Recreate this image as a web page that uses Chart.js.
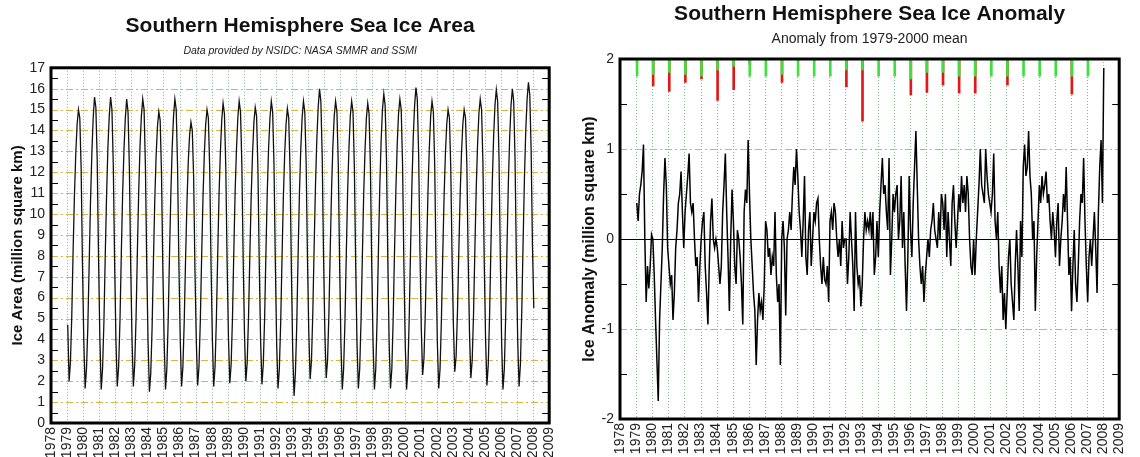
<!DOCTYPE html>
<html>
<head>
<meta charset="utf-8">
<script src="https://cdn.jsdelivr.net/npm/chart.js@4"></script>
<style>
  html,body{margin:0;padding:0;background:#fff;}
  #wrap{position:relative;width:1140px;height:457px;overflow:hidden;}
  canvas{position:absolute;top:0;}
  #areaChart{left:0;}
  #anomChart{left:570px;}
</style>
</head>
<body>
<div id="wrap">
  <canvas id="areaChart" width="570" height="457"></canvas>
  <canvas id="anomChart" width="570" height="457"></canvas>
</div>
<script>
// years of data, one row per year (monthly values Jan..Dec)
const years = [1979,1980,1981,1982,1983,1984,1985,1986,1987,1988,1989,1990,1991,1992,1993,
               1994,1995,1996,1997,1998,1999,2000,2001,2002,2003,2004,2005,2006,2007,2008];
const yearTicks = [1978,1979,1980,1981,1982,1983,1984,1985,1986,1987,1988,1989,1990,1991,1992,1993,
                   1994,1995,1996,1997,1998,1999,2000,2001,2002,2003,2004,2005,2006,2007,2008,2009];

// sea ice area, million km2
const areaMonthly = [
  [4.7,2.0,2.9,5.1,8.2,10.9,12.9,14.3,15.0,14.6,12.2,7.6],
  [3.9,1.65,2.6,4.6,7.6,10.6,12.9,14.6,15.6,15.1,12.6,7.9],
  [4.0,1.6,2.6,4.8,8.0,10.9,13.2,14.7,15.6,15.0,12.4,7.7],
  [3.9,1.75,2.7,4.9,8.1,11.0,13.1,14.6,15.5,14.9,12.3,7.6],
  [4.0,1.75,2.8,5.0,8.2,11.1,13.3,14.7,15.5,15.0,12.3,7.5],
  [3.8,1.5,2.4,4.6,7.8,10.7,12.8,14.2,14.9,14.5,12.0,7.4],
  [3.9,1.6,2.6,4.9,8.1,11.0,13.2,14.7,15.5,15.0,12.3,7.6],
  [4.0,1.75,2.7,4.9,7.9,10.5,12.5,13.8,14.4,14.0,11.8,7.3],
  [3.9,1.8,2.7,4.9,8.0,10.8,12.9,14.3,15.0,14.6,12.2,7.6],
  [4.0,1.75,2.7,5.0,8.1,11.0,13.0,14.5,15.3,14.8,12.3,7.7],
  [4.1,1.9,2.8,5.0,8.2,11.1,13.1,14.6,15.4,14.9,12.4,7.8],
  [4.2,2.0,2.9,5.1,8.1,10.9,12.9,14.4,15.1,14.7,12.2,7.6],
  [4.0,1.85,2.8,5.0,8.2,11.1,13.2,14.6,15.4,14.9,12.4,7.7],
  [3.8,1.65,2.6,4.8,7.9,10.8,12.9,14.3,15.05,14.6,12.1,7.3],
  [3.4,1.3,2.4,4.7,8.0,11.0,13.1,14.6,15.4,14.9,12.5,7.9],
  [4.3,2.1,3.0,5.3,8.5,11.4,13.6,15.1,16.0,15.4,12.8,8.0],
  [4.3,2.15,3.0,5.2,8.3,11.2,13.3,14.7,15.4,14.9,12.4,7.6],
  [3.8,1.6,2.6,4.9,8.1,11.1,13.2,14.7,15.4,14.9,12.3,7.6],
  [3.8,1.65,2.6,4.9,8.0,11.0,13.1,14.6,15.3,14.8,12.3,7.5],
  [3.8,1.6,2.6,5.0,8.3,11.3,13.5,15.0,15.75,15.2,12.6,7.8],
  [3.8,1.65,2.6,5.0,8.2,11.1,13.3,14.8,15.5,15.0,12.4,7.6],
  [3.8,1.6,2.6,5.1,8.4,11.4,13.7,15.2,16.05,15.5,12.9,8.2],
  [4.5,2.3,3.1,5.3,8.3,11.1,13.2,14.7,15.4,14.9,12.4,7.6],
  [3.8,1.65,2.6,4.9,8.0,10.8,12.9,14.3,15.0,14.6,12.2,7.8],
  [4.6,2.45,3.2,5.3,8.2,10.9,12.9,14.3,15.0,14.6,12.4,7.9],
  [4.3,2.15,3.0,5.2,8.3,11.2,13.3,14.8,15.5,15.0,12.5,7.7],
  [4.0,1.8,2.8,5.2,8.5,11.5,13.7,15.2,15.95,15.4,12.8,7.9],
  [3.8,1.6,2.6,5.1,8.4,11.5,13.7,15.2,16.0,15.4,12.6,7.7],
  [3.9,1.75,2.8,5.3,8.6,11.7,14.0,15.5,16.3,15.7,13.1,8.5],
  [5.5]
];

// anomaly from 1979-2000 mean, million km2
const anomalyMonthly = [
  [0.4,0.2,0.5,0.6,0.75,1.05,0.0,-0.7,-0.3,-0.55,-0.3,0.05],
  [0.0,-0.4,-0.9,-1.35,-1.8,-0.9,-0.5,-0.1,0.5,0.9,0.6,-0.1],
  [-0.3,-0.5,-0.4,-0.9,-0.6,-0.1,0.1,0.4,0.5,0.75,0.3,-0.1],
  [0.3,0.5,0.7,0.95,0.4,0.3,0.4,0.0,-0.3,-0.2,-0.7,-0.3],
  [0.0,0.2,0.3,-0.3,-0.6,-0.95,-0.3,0.2,0.45,0.0,-0.1,0.0],
  [-0.1,-0.3,-0.5,-0.3,0.3,0.6,0.95,0.3,-0.2,-0.8,0.0,0.55],
  [0.2,-0.3,-0.5,0.1,0.0,-0.2,-0.5,-0.95,0.3,0.55,0.4,1.1],
  [0.5,0.0,-0.3,-0.6,-0.8,-1.4,-0.9,-0.6,-0.8,-0.7,-0.9,-0.5],
  [0.2,0.1,-0.2,-0.1,-0.4,-0.2,-0.3,0.3,-0.4,-0.7,-0.5,-1.4],
  [0.0,0.2,-0.1,-0.85,0.0,0.1,0.3,0.1,0.5,0.8,0.6,1.0],
  [0.7,0.3,0.1,-0.2,0.2,0.7,-0.2,-0.4,0.1,0.3,-0.3,0.0],
  [0.3,0.2,0.4,0.45,0.0,-0.3,-0.5,-0.2,-0.45,-0.5,-0.3,-0.7],
  [0.2,0.3,0.1,0.4,0.3,0.0,-0.2,0.0,-0.3,0.2,-0.1,0.0],
  [0.0,-0.5,-0.2,0.3,0.0,-0.3,-0.8,0.3,-0.3,-0.5,-0.4,-0.75],
  [-0.5,0.0,0.3,0.1,0.2,0.1,0.3,0.0,0.3,-0.4,-0.2,0.2],
  [-0.2,0.3,0.6,0.9,0.5,0.6,0.3,0.1,0.9,-0.4,0.0,0.5],
  [0.3,0.5,0.6,0.0,0.2,0.7,-0.1,0.3,-0.3,-0.8,-0.2,0.7],
  [0.1,-0.2,0.4,0.8,1.2,0.6,0.0,-0.3,-0.5,-0.3,-0.7,-0.4],
  [-0.2,0.0,-0.2,0.1,0.2,0.4,0.1,0.0,-0.1,0.3,0.0,0.5],
  [0.4,0.1,0.5,-0.2,0.3,0.0,-0.3,0.4,0.6,0.2,-0.1,0.2],
  [0.5,0.3,0.7,0.4,0.6,0.3,0.7,0.5,0.0,-0.3,-0.4,0.0],
  [-0.4,0.0,0.3,0.6,1.0,0.6,0.5,0.4,1.0,0.7,0.5,0.4],
  [0.3,0.5,0.95,0.2,0.0,0.3,-0.3,-0.6,-0.3,-0.9,-0.6,-1.0],
  [-0.6,-0.2,0.0,-0.5,-0.7,-0.9,-0.3,0.1,-0.3,-0.8,0.2,-0.2],
  [0.8,1.05,0.7,0.8,1.2,0.7,0.5,0.0,0.2,-0.8,-0.2,0.2],
  [0.6,0.4,0.7,0.5,0.6,0.75,0.4,0.5,0.2,0.0,0.3,0.1],
  [-0.2,0.2,0.4,-0.3,0.0,0.2,0.5,0.3,0.8,0.2,-0.4,-0.2],
  [-0.8,-0.3,0.1,-0.5,-0.7,-0.3,0.2,0.5,0.4,0.9,0.2,-0.3],
  [-0.7,-0.2,0.0,-0.3,0.0,0.3,-0.1,-0.6,0.3,0.8,1.1,0.4],
  [1.9]
];

// markers hanging from the top edge, one per year 1979-2007 (lower end of each bar)
const greenLow = [1.81,1.83,1.85,1.83,1.81,1.88,1.92,1.81,1.81,1.83,1.81,1.81,1.81,1.88,1.88,
                  1.81,1.81,1.78,1.85,1.85,1.81,1.81,1.81,1.81,1.81,1.81,1.81,1.81,1.81];
const redLow   = [null,1.70,1.64,1.74,1.78,1.54,1.66,1.94,null,1.74,null,null,null,1.69,1.31,
                  null,null,1.60,1.63,1.71,1.62,1.62,null,1.71,null,null,null,1.61,null];

const FONT = "'Liberation Sans', Arial, Helvetica, sans-serif";

function monthlyPoints(rows){
  const pts = [];
  rows.forEach((row,i)=>{
    row.forEach((v,m)=>pts.push({x: years[i] + (m+0.5)/12, y: v}));
  });
  return pts;
}
function barPoints(lows){
  const pts = [];
  lows.forEach((v,i)=>{ if(v!==null) pts.push({x: years[i]+0.06, y:[v,2]}); });
  return pts;
}

// grid lines, minor ticks and the heavy frame
const framePlugin = {
  id:'frame',
  beforeDatasetsDraw(chart){
    const {ctx, chartArea:a, scales:{x,y}} = chart;
    ctx.save();
    ctx.lineWidth = 1;
    ctx.setLineDash([1,2]);
    ctx.strokeStyle = 'rgba(120,175,120,0.9)';
    x.ticks.forEach(t=>{
      if(t.value<=x.min || t.value>=x.max) return;
      const px = Math.round(x.getPixelForValue(t.value))+0.5;
      ctx.beginPath(); ctx.moveTo(px,a.top); ctx.lineTo(px,a.bottom); ctx.stroke();
    });
    y.ticks.forEach(t=>{
      const v = t.value;
      if(!Number.isInteger(v) || v<=y.min || v>=y.max) return;
      const py = Math.round(y.getPixelForValue(v))+0.5;
      if(v===0){ ctx.setLineDash([]); ctx.strokeStyle='#000'; }
      else { ctx.setLineDash([7,3,2,3]); ctx.strokeStyle='#d8b440'; }
      ctx.beginPath(); ctx.moveTo(a.left,py); ctx.lineTo(a.right,py); ctx.stroke();
    });
    ctx.restore();
  },
  afterDatasetsDraw(chart){
    const {ctx, chartArea:a, scales:{y}} = chart;
    ctx.save();
    ctx.strokeStyle = '#000';
    ctx.lineWidth = 1;
    y.ticks.forEach(t=>{
      if(Number.isInteger(t.value)) return;
      const py = Math.round(y.getPixelForValue(t.value))+0.5;
      ctx.beginPath();
      ctx.moveTo(a.left,py); ctx.lineTo(a.left+7,py);
      ctx.moveTo(a.right,py); ctx.lineTo(a.right-7,py);
      ctx.stroke();
    });
    ctx.lineWidth = 3;
    ctx.strokeRect(a.left,a.top,a.right-a.left,a.bottom-a.top);
    ctx.restore();
  }
};

function xAxis(h){
  return {
    type:'linear', min:1978, max:2009, offset:false,
    grid:{display:false, drawTicks:false}, border:{display:false},
    afterBuildTicks: s=>{ s.ticks = yearTicks.map(v=>({value:v})); },
    afterFit: s=>{ s.height = h; },
    ticks:{autoSkip:false, maxRotation:90, minRotation:90, padding:4, color:'#222',
           font:{family:FONT, size:14}, callback: v=>String(v)}
  };
}
function yAxis(min, max, w, title, titleSize, titlePad){
  return {
    min:min, max:max,
    grid:{display:false, drawTicks:false}, border:{display:false},
    afterFit: s=>{ s.width = w; },
    ticks:{stepSize:0.5, autoSkip:false, padding:6, color:'#222', font:{family:FONT, size:14},
           callback: v=>Number.isInteger(v) ? String(v) : ''},
    title:{display:true, text:title, color:'#111', font:{family:FONT, size:titleSize, weight:'bold'},
           padding:{top:titlePad, bottom:0}}
  };
}

new Chart(document.getElementById('areaChart'), {
  type:'line',
  data:{datasets:[{
    data: monthlyPoints(areaMonthly),
    borderColor:'#111', borderWidth:1.3, pointRadius:0, tension:0
  }]},
  options:{
    responsive:false, animation:false, devicePixelRatio:1,
    layout:{padding:{left:0, right:8, top:0, bottom:0}},
    plugins:{
      legend:{display:false}, tooltip:{enabled:false},
      title:{display:true, fullSize:false, text:'Southern Hemisphere Sea Ice Area', color:'#111',
             font:{family:FONT, size:21, weight:'bold'}, padding:{top:14, bottom:6}},
      subtitle:{display:true, fullSize:false, text:'Data provided by NSIDC: NASA SMMR and SSMI', color:'#222',
                font:{family:FONT, size:10.5, style:'italic'}, padding:{top:0, bottom:10}}
    },
    scales:{
      x: xAxis(34),
      y: yAxis(0, 17, 51, 'Ice Area (million square km)', 15, 9)
    }
  },
  plugins:[framePlugin]
});

new Chart(document.getElementById('anomChart'), {
  type:'line',
  data:{datasets:[
    {type:'line', data: monthlyPoints(anomalyMonthly), borderColor:'#000', borderWidth:1.5,
     pointRadius:0, tension:0, order:1},
    {type:'bar', data: barPoints(greenLow), backgroundColor:'#3ee03e', barThickness:2,
     grouped:false, borderWidth:0, order:2},
    {type:'bar', data: barPoints(redLow), backgroundColor:'#e01818', barThickness:2,
     grouped:false, borderWidth:0, order:3}
  ]},
  options:{
    responsive:false, animation:false, devicePixelRatio:1,
    layout:{padding:{left:0, right:9, top:0, bottom:0}},
    plugins:{
      legend:{display:false}, tooltip:{enabled:false},
      title:{display:true, fullSize:false, text:'Southern Hemisphere Sea Ice Anomaly', color:'#111',
             font:{family:FONT, size:21, weight:'bold'}, padding:{top:2, bottom:4}},
      subtitle:{display:true, fullSize:false, text:'Anomaly from 1979-2000 mean', color:'#222',
                font:{family:FONT, size:14}, padding:{top:0, bottom:11}}
    },
    scales:{
      x: xAxis(38),
      y: yAxis(-2, 2, 50, 'Ice Anomaly (million square km)', 16, 10)
    }
  },
  plugins:[framePlugin]
});
</script>
</body>
</html>
